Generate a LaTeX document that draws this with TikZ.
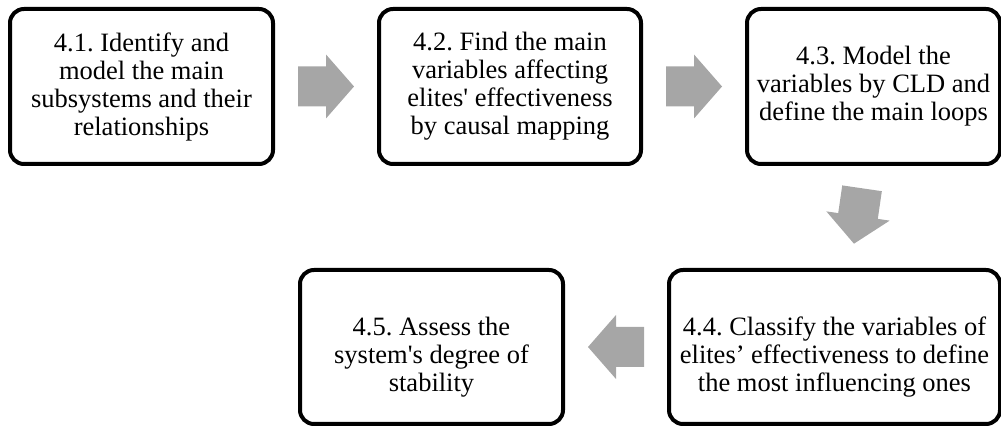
\documentclass[tikz,border=0pt]{standalone}
\usepackage{fontspec}
\setmainfont{Liberation Serif}
\frenchspacing
\usetikzlibrary{calc}
\definecolor{arrowgray}{RGB}{166,166,166}
\tikzset{
  stepbox/.style={draw=black, line width=4pt, rounded corners=14pt, fill=white,
    align=center, inner sep=0pt, font=\fontsize{26.5}{28}\selectfont},
  toprow/.style={minimum height=155pt},
  bottomrow/.style={minimum height=154pt},
  blockarrow/.pic={
    \fill[arrowgray] (-28,-20) -- (0,-20) -- (0,-32) -- (28,0) -- (0,32)
      -- (0,20) -- (-28,20) -- cycle;
  }
}
\begin{document}
\begin{tikzpicture}[x=1pt,y=1pt]
\useasboundingbox (0,0) rectangle (1001,428);

% top row of steps
\node[stepbox, toprow, minimum width=263pt] (s1) at (141.5,341.5)
  {4.1. Identify and\\model the main\\subsystems and their\\relationships};
\node[stepbox, toprow, minimum width=262pt] (s2) at (510,341.5)
  {4.2. Find the main\\variables affecting\\elites\textquotesingle{} effectiveness\\by causal mapping};
\node[stepbox, toprow, minimum width=253pt] (s3) at (873.5,341.5)
  {4.3. Model the\\variables by CLD and\\define the main loops};

% bottom row of steps (text sits a little low in these boxes)
\node[stepbox, bottomrow, minimum width=331pt] (s4) at (834.5,81)
  {\rule{0pt}{38pt}4.4. Classify the variables of\\elites’ effectiveness to define\\the most influencing ones};
\node[stepbox, bottomrow, minimum width=263pt] (s5) at (431.5,81)
  {\rule{0pt}{38pt}4.5. Assess the\\system\textquotesingle{}s degree of\\stability};

% block arrows between consecutive steps
\pic at ($(s1.east)!0.5!(s2.west)$) {blockarrow};
\pic at ($(s2.east)!0.5!(s3.west)$) {blockarrow};
\pic[rotate=-98.3] at ($($(s3.south)!0.5!(s4.north)$)+(4,1)$) {blockarrow};
\pic[rotate=180] at ($(s4.west)!0.5!(s5.east)$) {blockarrow};
\end{tikzpicture}
\end{document}
